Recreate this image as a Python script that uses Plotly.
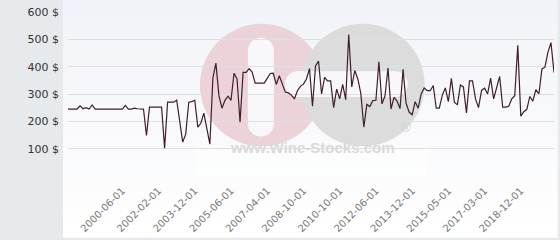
import plotly.graph_objects as go

# ---- data ----
prices = [
    245, 245, 245, 245, 257, 246, 250, 245, 260, 245,
    245, 245, 245, 245, 245, 245, 245, 245, 245, 258,
    245, 245, 248, 246, 245, 245, 148, 252, 252, 252,
    252, 252, 102, 270, 270, 270, 278, 200, 124, 153,
    270, 272, 277, 179, 193, 230, 173, 117, 358, 413,
    294, 248, 277, 292, 277, 376, 355, 197, 379, 379,
    393, 380, 340, 340, 340, 340, 357, 375, 376, 335,
    367, 337, 307, 304, 296, 282, 312, 328, 336, 355,
    393, 255, 403, 420, 300, 361, 348, 348, 250, 318,
    282, 335, 279, 518, 326, 386, 355, 302, 179, 262,
    254, 276, 277, 418, 264, 292, 395, 245, 288, 274,
    247, 390, 266, 234, 224, 272, 248, 300, 322, 312,
    312, 331, 248, 248, 296, 322, 272, 357, 270, 260,
    333, 326, 231, 348, 348, 282, 250, 313, 321, 300,
    358, 282, 326, 364, 252, 252, 255, 282, 294, 478,
    219, 235, 244, 291, 274, 316, 300, 392, 398, 453,
    488, 379,
]
positions = list(range(len(prices)))

tick_positions = [18, 30, 42, 54, 66, 78, 90, 102, 114, 126, 138, 150]
tick_labels = ["2000-06-01", "2002-02-01", "2003-12-01", "2005-06-01",
               "2007-04-01", "2008-10-01", "2010-10-01", "2012-06-01",
               "2013-12-01", "2015-05-01", "2017-03-01", "2018-12-01"]

y_ticks = [0, 100, 200, 300, 400, 500, 600]
y_labels = ["", "100 $", "200 $", "300 $", "400 $", "500 $", "600 $"]

# ---- layout geometry (pixels) ----
W, H = 560, 240
L, R, T, B = 68, 554.3, 12, 178


def xp(px):
    return (px - L) / (R - L)


def yp(py):
    return (B - py) / (B - T)


shapes = []
# light panel with vertical gradient
nb = 16
top_c = (242, 243, 248)
bot_c = (255, 255, 255)
for k in range(nb):
    y0 = k * H / nb
    y1 = (k + 1) * H / nb + 0.5
    f = (k + 0.5) / nb
    c = tuple(round(top_c[j] + (bot_c[j] - top_c[j]) * f) for j in range(3))
    shapes.append(dict(type="rect", xref="paper", yref="paper", layer="below",
                       x0=xp(63), x1=xp(558), y0=yp(y1), y1=yp(y0),
                       line=dict(width=0), fillcolor="rgb(%d,%d,%d)" % c))


def circ(cx, cy, r, color):
    return dict(type="circle", xref="paper", yref="paper", layer="below",
                x0=xp(cx - r), x1=xp(cx + r), y0=yp(cy + r), y1=yp(cy - r),
                line=dict(width=0), fillcolor=color)


def rect(x0, y0, x1, y1, color):
    return dict(type="rect", xref="paper", yref="paper", layer="below",
                x0=xp(x0), x1=xp(x1), y0=yp(y1), y1=yp(y0),
                line=dict(width=0), fillcolor=color)


pink = "#ecd2d9"
grey = "#dcdcdc"
hole = "#f8f8fb"
shapes += [
    circ(262, 86, 62, pink),
    rect(248, 51, 274, 125, hole),
    circ(261, 51, 13, hole),
    circ(261, 125, 13, hole),
    circ(363, 86, 62, grey),
    rect(298, 72, 395, 98, hole),
    circ(298, 85, 13, hole),
    circ(395, 85, 13, hole),
    rect(197, 148, 427, 178, "rgba(255,255,255,0.6)"),
]

fig = go.Figure()
fig.add_trace(go.Scatter(
    x=positions, y=prices, mode="lines",
    line=dict(color="#3e1f2b", width=1.2),
    hoverinfo="skip", showlegend=False,
))

fig.update_layout(
    width=W, height=H,
    margin=dict(l=L, r=W - R, t=T, b=H - B, pad=0),
    paper_bgcolor="#e6eaed",
    plot_bgcolor="rgba(0,0,0,0)",
    shapes=shapes,
    annotations=[
        dict(text="<b>www.Wine-Stocks.com</b>", xref="paper", yref="paper",
             x=xp(313), y=yp(160), showarrow=False,
             font=dict(family="Liberation Sans, Arial", size=15, color="#d9d9d9")),
        dict(text="®", xref="paper", yref="paper",
             x=xp(413), y=yp(139), showarrow=False,
             font=dict(family="Liberation Sans, Arial", size=15, color="#d4d4d4")),
    ],
    xaxis=dict(
        range=[0, len(prices) - 1], showgrid=False, zeroline=False,
        showline=False, ticks="",
        tickmode="array", tickvals=tick_positions, ticktext=tick_labels,
        tickangle=-45, tickfont=dict(family="DejaVu Sans", size=10, color="#777777"),
        ticklabelstandoff=6,
    ),
    yaxis=dict(
        range=[0, 600], showgrid=True, gridcolor="#dcdfe4", gridwidth=1,
        zeroline=False, showline=False, ticks="",
        tickmode="array", tickvals=y_ticks, ticktext=y_labels,
        tickfont=dict(family="DejaVu Sans", size=11, color="#333333"),
        ticklabelstandoff=8,
    ),
)

fig.write_html("out.html")
